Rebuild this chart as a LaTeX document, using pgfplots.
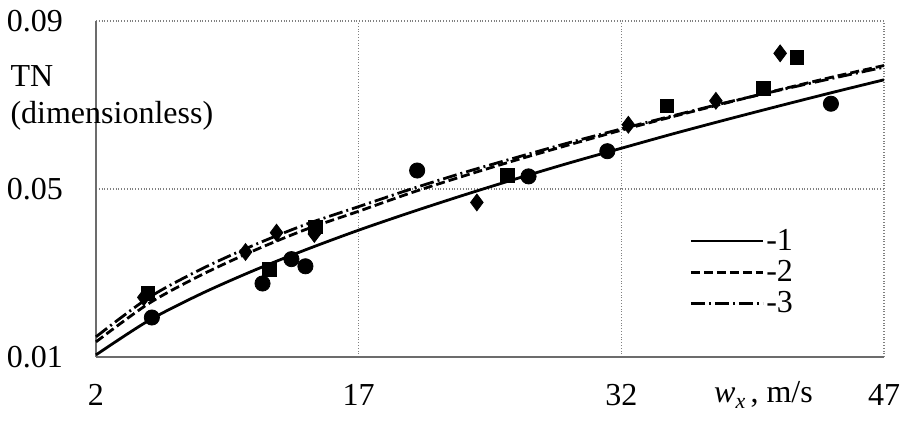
\documentclass[border=0pt]{standalone}
\usepackage{fontspec}
\setmainfont{Liberation Serif}
\usepackage{pgfplots}
\pgfplotsset{compat=1.18}
\begin{document}
\begin{tikzpicture}[font=\fontsize{16}{18.5}\selectfont]
\useasboundingbox (-48pt,-32pt) rectangle (404.5pt,178.5pt);
\begin{axis}[
  at={(0,0)}, anchor=south west,
  scale only axis, width=394pt, height=168pt,
  xmin=2, xmax=47, ymin=0.01, ymax=0.09,
  xtick={2,17,32,47}, xticklabels={2,17,32,47},
  ytick={0.01,0.05,0.09}, yticklabels={0.01,0.05,0.09},
  scaled y ticks=false, scaled x ticks=false,
  axis x line*=bottom, axis y line*=left,
  axis line style={-, draw=gray!85!black, line width=0.8pt},
  tick style={draw=none}, major tick length=0pt,
  grid=major, grid style={densely dotted, gray, line width=0.6pt},
  tick label style={font=\fontsize{16}{18.5}\selectfont},
  xticklabel style={yshift=-10pt},
  yticklabel style={xshift=-13pt},
  clip=false,
  legend style={at={(rel axis cs:0.745,0.40)}, anchor=north west, draw=none, fill=none,
    row sep=1.5pt, nodes={inner sep=1pt, font=\fontsize{16}{18.5}\selectfont}},
  legend cell align=left,
  legend image code/.code={\draw[#1] (0pt,0pt) -- (36pt,0pt);},
]
\addplot[black, line width=1.4pt, smooth] coordinates {
(2,0.0105) (5,0.01865) (8,0.02504) (11,0.03058) (14,0.03557) (17,0.0402)
(20,0.04448) (23,0.04855) (26,0.05244) (29,0.05617) (32,0.0597) (35,0.06319)
(38,0.06652) (41,0.06976) (44,0.07293) (47,0.0760)};
\addlegendentry{-1}
\addplot[black, line width=1.4pt, smooth, dash pattern=on 4.5pt off 2pt] coordinates {
(2,0.0136) (5,0.0227) (8,0.0295) (11,0.0353) (14,0.0404) (17,0.0447)
(20,0.0491) (23,0.0531) (26,0.0569) (29,0.0605) (32,0.0640) (35,0.0673)
(38,0.0705) (41,0.0736) (44,0.0766) (47,0.0794)};
\addlegendentry{-2}
\addplot[black, line width=1.4pt, smooth, dash pattern=on 7pt off 2pt on 1pt off 2pt] coordinates {
(2,0.0148) (5,0.0241) (8,0.0309) (11,0.0366) (14,0.0416) (17,0.0458)
(20,0.0500) (23,0.0539) (26,0.0575) (29,0.0610) (32,0.0643) (35,0.0675)
(38,0.0706) (41,0.0735) (44,0.0763) (47,0.0790)};
\addlegendentry{-3}
\addplot[only marks, mark=*, mark size=3.8pt, black, forget plot] coordinates {
(5.19,0.0194) (11.51,0.0275) (13.16,0.0333) (13.96,0.0316) (20.34,0.0544)
(26.7,0.0530) (31.2,0.0590) (43.97,0.0703)};
\addplot[only marks, mark=square*, mark size=3.4pt, black, forget plot] coordinates {
(4.96,0.0251) (11.91,0.0309) (14.53,0.0410) (25.5,0.0532) (34.6,0.0698)
(40.1,0.0739) (42.03,0.0814)};
\addplot[only marks, mark=diamond*, mark size=4.2pt, black, forget plot] coordinates {
(4.73,0.0242) (10.54,0.0350) (12.31,0.0396) (14.47,0.0393) (23.75,0.0468)
(32.4,0.0653) (37.4,0.0710) (41.07,0.0823)};
\node[anchor=north west, align=left, inner sep=0pt] at (rel axis cs:-0.109,0.87) {TN\\(dimensionless)};
\node[anchor=base west, inner sep=0pt] at (rel axis cs:0.784,-0.134) {\textit{w}\raisebox{-0.45ex}{\fontsize{11}{12}\selectfont\textit{x}}\,, m/s};
\end{axis}
\end{tikzpicture}
\end{document}
